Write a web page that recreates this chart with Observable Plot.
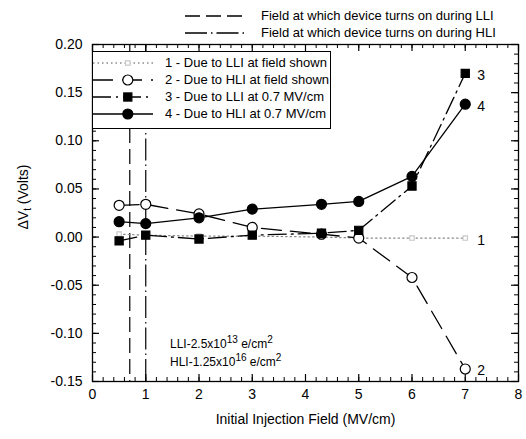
<!DOCTYPE html>
<html>
<head>
<meta charset="utf-8">
<script src="https://cdn.jsdelivr.net/npm/d3@7"></script>
<script src="https://cdn.jsdelivr.net/npm/@observablehq/plot@0.6"></script>
<style>
  body { margin: 0; background: white; }
  #wrap { position: relative; width: 526px; height: 439px; font-family: "Liberation Sans", Arial, sans-serif; color: #000; }
  .ov { position: absolute; white-space: nowrap; }
  .key { position: absolute; display: flex; align-items: center; font-size: 13px; }
  .key svg { display: block; }
  #box { position: absolute; background: white; border: 1px solid #000; }
  .row { position: absolute; left: 0; display: flex; align-items: center; font-size: 13px; }
  sup { font-size: 10px; vertical-align: 5px; line-height: 0; }
  sub { font-size: 10px; vertical-align: -3px; line-height: 0; }
</style>
</head>
<body>
<div id="wrap"></div>
<script>
// Initial injection fields (MV/cm) at which the shift was measured
const fields = [0.5, 1, 2, 3, 4.3, 5, 6, 7];

// Threshold-voltage shift (V) for each curve
const llIAtField = [0.003, 0.002, 0.001, 0.001, 0.000, -0.001, -0.001, -0.001];
const hlIAtField = [0.033, 0.034, 0.024, 0.010, 0.003, -0.001, -0.042, -0.137];
const llIAt07 = [-0.004, 0.002, -0.002, 0.002, 0.004, 0.007, 0.053, 0.170];
const hlIAt07 = [0.016, 0.014, 0.020, 0.029, 0.034, 0.037, 0.063, 0.138];

// Field at which the device turns on
const turnOnLLI = 0.7;
const turnOnHLI = 1.0;

const seriesNames = [
  "1 - Due to LLI at field shown",
  "2 - Due to HLI at field shown",
  "3 - Due to LLI at 0.7 MV/cm",
  "4 - Due to HLI at 0.7 MV/cm"
];
const seriesIds = ["1", "2", "3", "4"];

const xTicks = [0, 1, 2, 3, 4, 5, 6, 7, 8];
const yTicks = [-0.15, -0.10, -0.05, 0.00, 0.05, 0.10, 0.15, 0.20];
const xMinor = d3.range(0, 40.5, 1).map(v => v / 5);
const yMinor = d3.range(-15, 20.5, 1).map(v => v / 100);

// Line and marker style for each curve
const styles = [
  {values: llIAtField, stroke: "#8a8a8a", dash: "1.5,3", symbol: "square", fill: "white", r: 2.5, mstroke: "#c8c8c8"},
  {values: hlIAtField, stroke: "#000", dash: "20,9", symbol: "circle", fill: "white", r: 5, mstroke: "#000"},
  {values: llIAt07, stroke: "#000", dash: "18,5,2,5", symbol: "square", fill: "#000", r: 4.6, mstroke: "#000"},
  {values: hlIAt07, stroke: "#000", dash: null, symbol: "circle", fill: "#000", r: 5, mstroke: "#000"}
];
const rows = styles.map((s, k) => fields.map((f, i) => ({series: seriesIds[k], x: f, y: s.values[i]})));
const lastPoints = rows.map(r => r[r.length - 1]);

const W = 526, H = 439;
const M = {top: 44, right: 8, bottom: 58, left: 92};
const frameW = W - M.left - M.right;
const frameH = H - M.top - M.bottom;

// inward tick marks of a given pixel length on each side of the frame
function ticksBottomTop(values, len, sw) {
  return [
    Plot.tickX(values, {x: d => d, insetTop: frameH - len, stroke: "#000", strokeWidth: sw}),
    Plot.tickX(values, {x: d => d, insetBottom: frameH - len, stroke: "#000", strokeWidth: sw})
  ];
}
function ticksLeftRight(values, len, sw) {
  return [
    Plot.tickY(values, {y: d => d, insetRight: frameW - len, stroke: "#000", strokeWidth: sw}),
    Plot.tickY(values, {y: d => d, insetLeft: frameW - len, stroke: "#000", strokeWidth: sw})
  ];
}

const plot = Plot.plot({
  width: W,
  height: H,
  marginTop: M.top,
  marginRight: M.right,
  marginBottom: M.bottom,
  marginLeft: M.left,
  style: {fontFamily: "Liberation Sans, Arial, sans-serif", fontSize: "14px", background: "white", color: "black"},
  x: {domain: [0, 8]},
  y: {domain: [-0.15, 0.20]},
  marks: [
    // turn-on field markers
    Plot.ruleX([turnOnLLI], {stroke: "#000", strokeWidth: 1.2, strokeDasharray: "15,6"}),
    Plot.ruleX([turnOnHLI], {stroke: "#000", strokeWidth: 1.2, strokeDasharray: "22,4,1.5,4"}),
    // curves
    ...styles.map((s, k) => Plot.line(rows[k], {x: "x", y: "y", stroke: s.stroke, strokeWidth: k === 0 ? 1.2 : 1.3, strokeDasharray: s.dash})),
    ...styles.map((s, k) => Plot.dot(rows[k], {x: "x", y: "y", symbol: s.symbol, r: s.r, fill: s.fill, stroke: s.mstroke, strokeWidth: 1.2})),
    // curve numbers at the last point
    Plot.text(lastPoints, {x: "x", y: "y", text: "series", dx: 16, dy: 2, textAnchor: "middle", fontSize: 14}),
    // frame, inward ticks on all four sides, tick labels
    Plot.frame({stroke: "#000", strokeWidth: 1.3}),
    ...ticksBottomTop(xMinor, 4, 1),
    ...ticksBottomTop(xTicks, 7, 1.2),
    ...ticksLeftRight(yMinor, 4, 1),
    ...ticksLeftRight(yTicks, 7, 1.2),
    Plot.axisX(xTicks, {anchor: "bottom", tickSize: 0, tickPadding: 8, fontSize: 14, label: null}),
    Plot.axisY(yTicks, {anchor: "left", tickSize: 0, tickPadding: 10, fontSize: 14, label: null, tickFormat: d => d.toFixed(2)}),
    Plot.text(["Initial Injection Field (MV/cm)"], {frameAnchor: "bottom", dy: 42, fontSize: 14})
  ]
});

const wrap = document.getElementById("wrap");
wrap.appendChild(plot);

function sample(dash, marker, w, stroke) {
  const ns = "http://www.w3.org/2000/svg";
  const svg = document.createElementNS(ns, "svg");
  svg.setAttribute("width", w);
  svg.setAttribute("height", 14);
  const line = document.createElementNS(ns, "line");
  line.setAttribute("x1", 0); line.setAttribute("x2", w);
  line.setAttribute("y1", 7); line.setAttribute("y2", 7);
  line.setAttribute("stroke", stroke || "#000");
  line.setAttribute("stroke-width", 1.3);
  if (dash) line.setAttribute("stroke-dasharray", dash);
  svg.appendChild(line);
  if (marker) {
    let m;
    const cx = w * 0.58;
    if (marker.symbol === "circle") {
      m = document.createElementNS(ns, "circle");
      m.setAttribute("cx", cx); m.setAttribute("cy", 7); m.setAttribute("r", marker.r);
    } else {
      const s = marker.r * 1.77;
      m = document.createElementNS(ns, "rect");
      m.setAttribute("x", cx - s / 2); m.setAttribute("y", 7 - s / 2);
      m.setAttribute("width", s); m.setAttribute("height", s);
    }
    m.setAttribute("fill", marker.fill);
    m.setAttribute("stroke", marker.mstroke);
    m.setAttribute("stroke-width", 1.2);
    svg.appendChild(m);
  }
  return svg;
}

// Key for the turn-on field lines, above the plot
[["15,6", "Field at which device turns on during LLI", 8],
 ["22,4,1.5,4", "Field at which device turns on during HLI", 25]].forEach(([dash, label, top]) => {
  const k = document.createElement("div");
  k.className = "key";
  k.style.left = "185px";
  k.style.top = top + "px";
  k.appendChild(sample(dash, null, 60));
  const t = document.createElement("span");
  t.style.marginLeft = "16px";
  t.textContent = label;
  k.appendChild(t);
  wrap.appendChild(k);
});

// Curve legend box
const box = document.createElement("div");
box.id = "box";
box.style.left = "92px";
box.style.top = "51px";
box.style.width = "237px";
box.style.height = "76px";
seriesNames.forEach((name, k) => {
  const r = document.createElement("div");
  r.className = "row";
  r.style.top = (3 + k * 17) + "px";
  r.appendChild(sample(styles[k].dash, styles[k], 60, styles[k].stroke));
  const t = document.createElement("span");
  t.style.marginLeft = "12px";
  t.textContent = name;
  r.appendChild(t);
  box.appendChild(r);
});
wrap.appendChild(box);

// y-axis title
const yl = document.createElement("div");
yl.className = "ov";
yl.style.left = "23px";
yl.style.top = "197px";
yl.style.fontSize = "14px";
yl.style.transform = "translate(-50%, -50%) rotate(-90deg)";
yl.innerHTML = "&Delta;V<sub>t</sub> (Volts)";
wrap.appendChild(yl);

// Dose annotations
[["LLI-2.5x10<sup>13</sup> e/cm<sup>2</sup>", 337], ["HLI-1.25x10<sup>16</sup> e/cm<sup>2</sup>", 355]].forEach(([html, top]) => {
  const a = document.createElement("div");
  a.className = "ov";
  a.style.left = "170px";
  a.style.top = top + "px";
  a.style.fontSize = "12px";
  a.innerHTML = html;
  wrap.appendChild(a);
});
</script>
</body>
</html>
